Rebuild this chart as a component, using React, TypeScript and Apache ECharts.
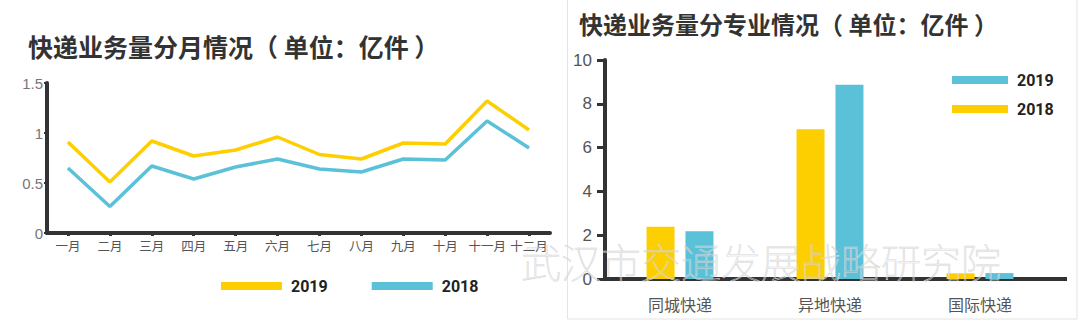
import React, { useEffect, useRef } from "react";
import * as echarts from "echarts";

const months = ["一月", "二月", "三月", "四月", "五月", "六月", "七月", "八月", "九月", "十月", "十一月", "十二月"];
const monthly2019 = [0.91, 0.51, 0.92, 0.77, 0.83, 0.96, 0.785, 0.74, 0.9, 0.89, 1.32, 1.03];
const monthly2018 = [0.65, 0.265, 0.67, 0.54, 0.66, 0.74, 0.64, 0.61, 0.74, 0.73, 1.12, 0.85];

const types = ["同城快递", "异地快递", "国际快递"];
const type2018 = [2.39, 6.84, 0.26];
const type2019 = [2.18, 8.87, 0.27];

const leftTitle = "快递业务量分月情况（ 单位：亿件 ）";
const rightTitle = "快递业务量分专业情况（ 单位：亿件 ）";
const watermark = "武汉市交通发展战略研究院";

const YELLOW = "#FDCF00";
const BLUE = "#5BC1D9";
const AXIS = "#333333";
const CJK = "'Noto Sans CJK SC', sans-serif";

export default function App() {
  const leftRef = useRef<HTMLDivElement>(null);
  const rightRef = useRef<HTMLDivElement>(null);

  useEffect(() => {
    const left = echarts.init(leftRef.current!, null, { renderer: "svg" });
    const right = echarts.init(rightRef.current!, null, { renderer: "svg" });

    left.setOption({
      animation: false,
      backgroundColor: "#ffffff",
      title: {
        text: leftTitle,
        left: 28,
        top: 33,
        padding: 0,
        textStyle: { fontFamily: CJK, fontSize: 25, fontWeight: "bold", color: "#333" },
      },
      legend: {
        left: 216,
        top: 273,
        icon: "rect",
        itemWidth: 61,
        itemHeight: 8,
        itemGap: 44,
        data: ["2019", "2018"],
        textStyle: { fontFamily: "Roboto, sans-serif", fontSize: 16, fontWeight: "bold", color: "#222", padding: [0, 0, 0, 4] },
      },
      grid: { left: 47, top: 83, width: 503, height: 150 },
      xAxis: {
        type: "category",
        data: months,
        boundaryGap: true,
        axisLine: { lineStyle: { color: AXIS, width: 4 } },
        axisTick: { show: true, alignWithLabel: true, length: 3, lineStyle: { color: AXIS, width: 3 } },
        axisLabel: { color: "#555", fontSize: 12.5, fontFamily: CJK, margin: 6, interval: 0 },
      },
      yAxis: {
        type: "value",
        min: 0,
        max: 1.5,
        interval: 0.5,
        axisLine: { show: true, lineStyle: { color: AXIS, width: 4 } },
        axisTick: { show: true, length: 3, lineStyle: { color: AXIS, width: 2 } },
        axisLabel: { color: "#777", fontSize: 15, fontFamily: "'Liberation Sans', sans-serif", margin: 4 },
        splitLine: { show: false },
      },
      series: [
        {
          name: "2019",
          type: "line",
          data: monthly2019,
          showSymbol: false,
          color: YELLOW,
          lineStyle: { color: YELLOW, width: 3.5 },
        },
        {
          name: "2018",
          type: "line",
          data: monthly2018,
          showSymbol: false,
          color: BLUE,
          lineStyle: { color: BLUE, width: 3.5 },
        },
      ],
    });

    right.setOption({
      animation: false,
      title: {
        text: rightTitle,
        left: 579,
        top: 11,
        padding: 0,
        textStyle: { fontFamily: CJK, fontSize: 24, fontWeight: "bold", color: "#333" },
      },
      legend: {
        orient: "vertical",
        left: 947,
        top: 67,
        icon: "rect",
        itemWidth: 56,
        itemHeight: 8,
        itemGap: 13,
        data: ["2019", "2018"],
        textStyle: { fontFamily: "Roboto, sans-serif", fontSize: 16, fontWeight: "bold", color: "#222", padding: [0, 0, 0, 4] },
      },
      grid: { left: 605, top: 60, width: 450, height: 219 },
      xAxis: {
        type: "category",
        data: types,
        axisLine: { lineStyle: { color: AXIS, width: 4 } },
        axisTick: { show: false },
        axisLabel: { color: "#555", fontSize: 16, fontFamily: CJK, margin: 17 },
      },
      yAxis: {
        type: "value",
        min: 0,
        max: 10,
        interval: 2,
        axisLine: { show: true, lineStyle: { color: AXIS, width: 4 } },
        axisTick: { show: true, length: 8, lineStyle: { color: AXIS, width: 3 } },
        axisLabel: { color: "#555", fontSize: 17, fontFamily: "'Liberation Sans', sans-serif", margin: 13 },
        splitLine: { show: false },
      },
      series: [
        {
          name: "2018",
          type: "bar",
          data: type2018,
          barWidth: 28,
          barGap: "39%",
          color: YELLOW,
          itemStyle: { color: YELLOW },
        },
        {
          name: "2019",
          type: "bar",
          data: type2019,
          barWidth: 28,
          color: BLUE,
          itemStyle: { color: BLUE },
        },
      ],
      graphic: [
        {
          type: "rect",
          z: 0,
          silent: true,
          shape: { x: 567.5, y: -1, width: 509.5, height: 320 },
          style: { fill: "transparent", stroke: "#e4e4e4", lineWidth: 1 },
        },
        {
          type: "line",
          z: 5,
          silent: true,
          shape: { x1: 1053, y1: 279, x2: 1067, y2: 279 },
          style: { stroke: AXIS, lineWidth: 4 },
        },
        {
          type: "text",
          z: 100,
          silent: true,
          x: 521,
          y: 261,
          style: {
            text: watermark,
            font: "100 40px 'Noto Sans CJK SC', sans-serif",
            fill: "transparent",
            stroke: "#d6d6d6",
            lineWidth: 0.6,
            verticalAlign: "middle",
            align: "left",
          },
        },
      ],
    });

    return () => {
      left.dispose();
      right.dispose();
    };
  }, []);

  return (
    <div style={{ position: "absolute", left: 0, top: 0, width: 1080, height: 321, background: "#fff" }}>
      <div ref={leftRef} style={{ position: "absolute", left: 0, top: 0, width: 1080, height: 321 }} />
      <div ref={rightRef} style={{ position: "absolute", left: 0, top: 0, width: 1080, height: 321 }} />
    </div>
  );
}
